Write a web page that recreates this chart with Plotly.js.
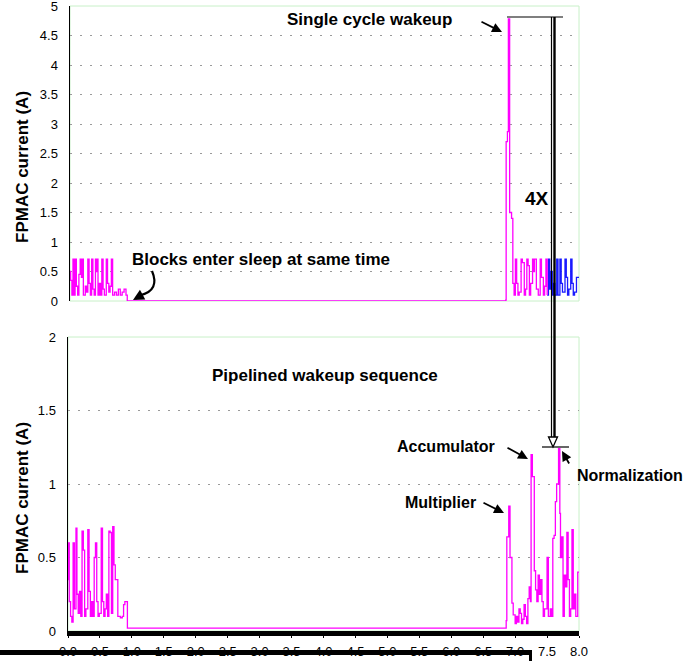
<!DOCTYPE html>
<html>
<head>
<meta charset="utf-8">
<script src="https://cdn.plot.ly/plotly-3.0.1.min.js"></script>
<style>html,body{margin:0;padding:0;background:#fff;}#chart{width:691px;height:661px;}</style>
</head>
<body>
<div id="chart"></div>
<script>
// ---- data ----
const topPinkX = [
  0, 0.01, 0.03, 0.047, 0.06, 0.08, 0.10, 0.12, 0.14, 0.16,
  0.18, 0.19, 0.21, 0.24, 0.26, 0.28, 0.30, 0.32, 0.34, 0.36,
  0.38, 0.40, 0.41, 0.42, 0.44, 0.46, 0.48, 0.50, 0.52, 0.54,
  0.57, 0.59, 0.61, 0.63, 0.65, 0.67, 0.70, 0.73, 0.76, 0.79,
  0.82, 0.85, 0.88, 0.90, 6.84, 6.85, 6.855, 6.875, 6.89, 6.91,
  6.94, 6.96, 6.98, 7.00, 7.02, 7.04, 7.06, 7.09, 7.11, 7.14,
  7.16, 7.18, 7.20, 7.22, 7.24, 7.27, 7.29, 7.30, 7.33, 7.36,
  7.39, 7.41, 7.44, 7.46, 7.48, 7.50
];
const topPinkY = [
  0.50, 0.35, 0.10, 0.71, 0.10, 0.71, 0.25, 0.10, 0.45, 0.71,
  0.40, 0.71, 0.10, 0.25, 0.15, 0.71, 0.30, 0.10, 0.71, 0.20,
  0.10, 0.71, 0.50, 0.71, 0.10, 0.30, 0.10, 0.71, 0.20, 0.10,
  0.71, 0.30, 0.15, 0.25, 0.71, 0.10, 0.15, 0.10, 0.20, 0.10,
  0.15, 0.20, 0.10, 0.00, 0.00, 0.02, 2.70, 2.87, 4.78, 1.50,
  1.40, 0.30, 0.10, 0.71, 0.30, 0.10, 0.15, 0.71, 0.65, 0.10,
  0.20, 0.71, 0.60, 0.10, 0.30, 0.71, 0.50, 0.71, 0.20, 0.10,
  0.71, 0.40, 0.10, 0.25, 0.71, 0.10
];
const topBlueX = [
  7.50, 7.52, 7.54, 7.56, 7.58, 7.60, 7.62, 7.65, 7.67, 7.70,
  7.72, 7.74, 7.78, 7.80, 7.82, 7.84, 7.87, 7.89, 7.91, 7.93,
  7.96, 8.00
];
const topBlueY = [
  0.10, 0.71, 0.20, 0.50, 0.10, 0.30, 0.10, 0.71, 0.10, 0.71,
  0.30, 0.15, 0.71, 0.40, 0.10, 0.20, 0.71, 0.30, 0.10, 0.15,
  0.40, 0.40
];
const botPinkX = [
  0, 0.01, 0.02, 0.04, 0.06, 0.08, 0.10, 0.125, 0.14, 0.16,
  0.18, 0.20, 0.22, 0.24, 0.26, 0.28, 0.31, 0.33, 0.35, 0.37,
  0.39, 0.41, 0.43, 0.45, 0.47, 0.49, 0.52, 0.54, 0.56, 0.58,
  0.60, 0.62, 0.64, 0.66, 0.68, 0.70, 0.72, 0.74, 0.78, 0.82,
  0.85, 0.87, 0.89, 0.93, 6.84, 6.86, 6.87, 6.90, 6.92, 6.95,
  6.97, 7.00, 7.02, 7.04, 7.06, 7.08, 7.10, 7.12, 7.14, 7.16,
  7.18, 7.20, 7.22, 7.24, 7.25, 7.27, 7.30, 7.32, 7.34, 7.36,
  7.38, 7.40, 7.42, 7.44, 7.46, 7.50, 7.52, 7.55, 7.57, 7.59,
  7.61, 7.63, 7.65, 7.68, 7.70, 7.71, 7.73, 7.75, 7.77, 7.79,
  7.81, 7.83, 7.85, 7.87, 7.89, 7.91, 7.93, 7.95, 7.98, 8.00
];
const botPinkY = [
  0.35, 0.60, 0.20, 0.10, 0.06, 0.60, 0.15, 0.70, 0.25, 0.12,
  0.27, 0.10, 0.68, 0.55, 0.10, 0.15, 0.69, 0.27, 0.10, 0.20,
  0.10, 0.50, 0.60, 0.20, 0.10, 0.12, 0.70, 0.20, 0.10, 0.15,
  0.25, 0.10, 0.68, 0.67, 0.12, 0.71, 0.45, 0.35, 0.10, 0.09,
  0.10, 0.18, 0.20, 0.02, 0.02, 0.07, 0.64, 0.85, 0.50, 0.19,
  0.11, 0.05, 0.10, 0.06, 0.15, 0.12, 0.05, 0.08, 0.18, 0.10,
  0.05, 0.22, 0.30, 0.20, 1.20, 1.05, 0.41, 0.28, 0.20, 0.38,
  0.25, 0.35, 0.20, 0.10, 0.15, 0.50, 0.10, 0.15, 0.10, 0.63,
  0.65, 0.88, 1.00, 1.24, 0.80, 0.50, 0.64, 0.10, 0.38, 0.30,
  0.67, 0.35, 0.10, 0.15, 0.69, 0.15, 0.25, 0.10, 0.40, 0.40
];
const topYTicks = [0, 0.5, 1, 1.5, 2, 2.5, 3, 3.5, 4, 4.5, 5];
const topYLabels = ['0', '0.5', '1', '1.5', '2', '2.5', '3', '3.5', '4', '4.5', '5'];
const botYTicks = [0, 0.5, 1, 1.5, 2];
const botYLabels = ['0', '0.5', '1', '1.5', '2'];
const xTicks = [0, 0.5, 1, 1.5, 2, 2.5, 3, 3.5, 4, 4.5, 5, 5.5, 6, 6.5, 7, 7.5, 8];
const xLabels = ['0.0','0.5','1.0','1.5','2.0','2.5','3.0','3.5','4.0','4.5','5.0','5.5','6.0','6.5','7.0','7.5','8.0'];

// ---- geometry helpers (pixel -> paper) ----
const W = 691, H = 661, L = 68, R = 579, T = 6, B = 631;
const px = v => (v - L) / (R - L);
const py = v => (B - v) / (B - T);
const FONT = 'Arial, "Liberation Sans", sans-serif';
const PINK = '#ff00ff', BLUE = '#1a1aff', BORDER = '#c8f0c8';

const traces = [
  {x: topBlueX, y: topBlueY, xaxis: 'x', yaxis: 'y', mode: 'lines', line: {color: BLUE, width: 1.3, shape: 'hv'}, hoverinfo: 'skip'},
  {x: topPinkX, y: topPinkY, xaxis: 'x', yaxis: 'y', mode: 'lines', line: {color: PINK, width: 1.3, shape: 'hv'}, hoverinfo: 'skip'},
  {x: botPinkX, y: botPinkY, xaxis: 'x2', yaxis: 'y2', mode: 'lines', line: {color: PINK, width: 1.3, shape: 'hv'}, hoverinfo: 'skip'}
];

function seg(x0, y0, x1, y1, w, c) {
  return {type: 'line', xref: 'paper', yref: 'paper', x0: px(x0), y0: py(y0), x1: px(x1), y1: py(y1),
          line: {color: c || '#000', width: w}, layer: 'above'};
}
function pathShape(pts, w, fill) {
  const d = pts.map((p, i) => (i ? 'L' : 'M') + px(p[0]) + ',' + py(p[1])).join(' ') + (fill ? ' Z' : '');
  return {type: 'path', xref: 'paper', yref: 'paper', path: d, line: {color: '#000', width: w},
          fillcolor: fill || 'rgba(0,0,0,0)', layer: 'above'};
}
const curve = {type: 'path', xref: 'paper', yref: 'paper', layer: 'above',
  path: 'M' + px(152) + ',' + py(271) + ' Q' + px(160) + ',' + py(290) + ' ' + px(141) + ',' + py(295),
  line: {color: '#000', width: 2.2}};

const shapes = [
  {type: 'rect', xref: 'x domain', yref: 'y domain', x0: 0, x1: 1, y0: 0, y1: 1, line: {color: BORDER, width: 1}, layer: 'below'},
  {type: 'rect', xref: 'x2 domain', yref: 'y2 domain', x0: 0, x1: 1, y0: 0, y1: 1, line: {color: BORDER, width: 1}, layer: 'below'},
  seg(507, 17, 563, 17, 1.2),
  seg(542, 447, 569, 447, 1.2),
  seg(551.5, 17, 551.5, 440, 1.2),
  seg(554.5, 17, 554.5, 440, 2.4),
  pathShape([[548.5, 437], [557.5, 437], [553, 447]], 1.3, '#ffffff'),
  seg(0, 652.5, 532, 652.5, 5),
  seg(530.5, 652.5, 530.5, 661, 3),
  curve
];

function label(text, x, y, size, rot) {
  return {text: text, xref: 'paper', yref: 'paper', x: px(x), y: py(y), showarrow: false,
          xanchor: 'center', yanchor: 'middle', textangle: rot || 0,
          font: {family: FONT, size: size, color: '#000', weight: 'bold'}};
}
function arrow(hx, hy, tx, ty, w) {
  return {text: '', xref: 'paper', yref: 'paper', x: px(hx), y: py(hy), ax: tx - hx, ay: ty - hy,
          showarrow: true, arrowhead: 2, arrowsize: 1.1, arrowwidth: w || 1.8, arrowcolor: '#000'};
}

const annotations = [
  label('<b>FPMAC current (A)</b>', 22, 167, 17, -90),
  label('<b>FPMAC current (A)</b>', 22, 498, 17, -90),
  label('<b>Single cycle wakeup</b>', 369, 20, 17),
  label('<b>Blocks enter sleep at same time</b>', 261, 259, 17),
  label('<b>4X</b>', 537, 199, 19),
  label('<b>Pipelined wakeup sequence</b>', 325, 375, 17),
  label('<b>Accumulator</b>', 446, 446, 16),
  label('<b>Normalization</b>', 630, 475, 16),
  label('<b>Multiplier</b>', 440, 502, 16),
  arrow(502, 32, 480, 21),
  arrow(528, 459, 506, 447),
  arrow(504, 513, 482, 502),
  arrow(562, 451, 570, 465),
  arrow(133, 300, 142, 295, 2)
];

const tickFont = {family: FONT, size: 13, color: '#000'};
const gridStyle = {showgrid: true, gridcolor: '#9a9a9a', gridwidth: 1, griddash: '2px,8px'};

const layout = {
  width: W, height: H,
  margin: {l: L, r: W - R, t: T, b: H - B, pad: 0},
  paper_bgcolor: '#fff', plot_bgcolor: '#fff',
  showlegend: false,
  xaxis: {domain: [px(70), 1], range: [0, 8], anchor: 'y', showticklabels: false, ticks: '',
          showgrid: false, zeroline: false, showline: false, fixedrange: true},
  yaxis: Object.assign({domain: [py(301), 1], range: [0, 5], anchor: 'x', tickvals: topYTicks, ticktext: topYLabels,
          tickfont: tickFont, ticks: '', ticklabelstandoff: 8, ticklabeloverflow: 'allow', zeroline: false, showline: true,
          linecolor: '#000', linewidth: 1.5}, gridStyle),
  xaxis2: {domain: [0, 1], range: [0, 8], anchor: 'y2', tickvals: xTicks, ticktext: xLabels, tickfont: tickFont,
           ticks: 'outside', ticklen: 2, tickcolor: '#000', tickwidth: 1, ticklabeloverflow: 'allow',
           showgrid: false, zeroline: false, showline: true, linecolor: '#000', linewidth: 5,
           ticklabelstandoff: 2},
  yaxis2: Object.assign({domain: [0, py(337)], range: [0, 2], anchor: 'x2', tickvals: botYTicks, ticktext: botYLabels,
           tickfont: tickFont, ticks: '', ticklabelstandoff: 8, ticklabeloverflow: 'allow', zeroline: false, showline: true,
           linecolor: '#000', linewidth: 1.5}, gridStyle),
  shapes: shapes,
  annotations: annotations
};

Plotly.newPlot('chart', traces, layout, {staticPlot: true, displayModeBar: false});
</script>
</body>
</html>
